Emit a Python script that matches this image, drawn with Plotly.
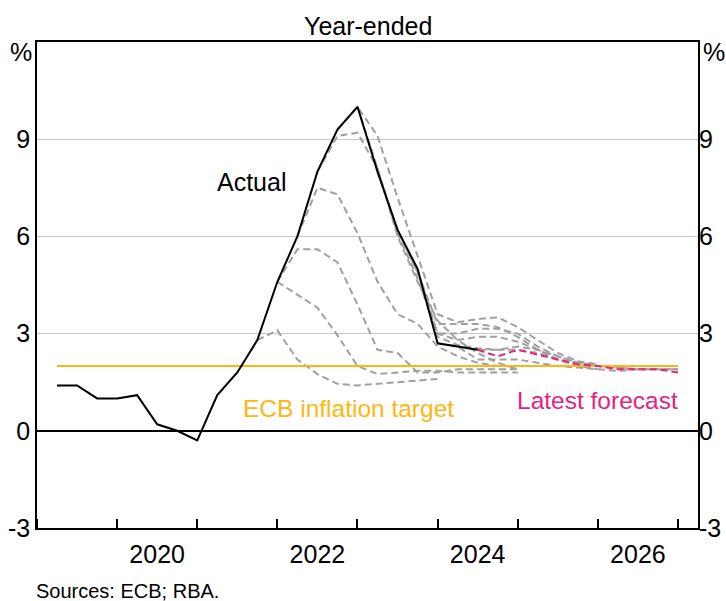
import plotly.graph_objects as go

# ---------------- data ----------------
actual_start = "2019Q1"
actual_values = [1.4, 1.4, 1.0, 1.0, 1.1, 0.2, 0.0, -0.3, 1.1, 1.8, 2.8, 4.6,
                 6.0, 8.0, 9.3, 10.0, 8.0, 6.2, 5.0, 2.7, 2.6, 2.5]

# earlier ECB projections (start quarter, values)
f_sep21_start = "2021Q3"
f_sep21 = [2.8, 3.1, 2.2, 1.75, 1.45, 1.4, 1.45, 1.5, 1.55, 1.6]
f_dec21_start = "2021Q4"
f_dec21 = [4.6, 4.2, 3.8, 2.95, 2.0, 1.75, 1.8, 1.85, 1.85, 1.8, 1.8, 1.8, 1.8]
f_mar22_start = "2021Q4"
f_mar22 = [4.6, 5.6, 5.6, 5.2, 3.9, 2.5, 2.4, 1.8, 1.8, 1.9, 1.9, 1.9, 1.9]
f_jun22_start = "2022Q1"
f_jun22 = [6.0, 7.5, 7.3, 6.1, 4.6, 3.6, 3.3, 2.6, 2.3, 2.1, 2.0, 2.0]
f_sep22_start = "2022Q2"
f_sep22 = [8.0, 9.1, 9.2, 8.1, 6.0, 4.6, 3.4, 2.8, 2.4, 2.1, 1.9]
f_dec22_start = "2022Q3"
f_dec22 = [9.3, 10.0, 9.1, 7.2, 5.4, 3.6, 3.35, 3.45, 3.5, 3.2, 2.8, 2.4, 2.15, 2.05]
f_mar23_start = "2022Q4"
f_mar23 = [10.0, 8.1, 6.1, 4.7, 3.0, 3.0, 3.15, 3.15, 3.0, 2.6, 2.3, 2.1, 2.0]
f_jun23_start = "2023Q1"
f_jun23 = [8.0, 6.2, 4.9, 3.3, 3.3, 3.3, 3.2, 2.9, 2.5, 2.2, 2.1, 2.0]
f_sep23_start = "2023Q2"
f_sep23 = [6.2, 4.9, 3.0, 2.8, 2.9, 2.9, 2.75, 2.5, 2.2, 2.0, 1.9]
f_dec23_start = "2023Q3"
f_dec23 = [5.0, 2.9, 2.65, 2.55, 2.5, 2.5, 2.4, 2.2, 2.05, 2.0, 1.95, 1.9, 1.9, 1.9]
f_mar24_start = "2023Q4"
f_mar24 = [2.7, 2.6, 2.2, 2.2, 2.2, 2.1, 2.0, 1.95, 1.9, 1.85, 1.9, 1.9, 1.9]
f_jun24_start = "2024Q1"
f_jun24 = [2.6, 2.5, 2.5, 2.6, 2.5, 2.3, 2.1, 2.0, 1.95, 1.9, 1.9, 1.9]

latest_start = "2024Q2"
latest_values = [2.5, 2.3, 2.5, 2.35, 2.2, 2.05, 2.0, 1.9, 1.9, 1.9, 1.8]

target_value = 2.0
target_span = ["2019Q1", "2026Q4"]

y_ticks = [-3, 0, 3, 6, 9]
x_label_years = [2020, 2022, 2024, 2026]

GRAY = "#a0a0a0"
PINK = "#E5247E"
ORANGE = "#FFB612"
FONT = "Liberation Sans, Arial, sans-serif"
FS = 25


def qpos(label):
    y, q = label.split("Q")
    return int(y) + int(q) / 4


def qseries(start, n):
    y, q = map(int, start.split("Q"))
    out = []
    for _ in range(n):
        out.append(f"{y}Q{q}")
        q += 1
        if q > 4:
            q = 1
            y += 1
    return out


def xs(start, vals):
    return [qpos(l) for l in qseries(start, len(vals))]


fig = go.Figure()

forecasts = [
    (f_sep21_start, f_sep21), (f_dec21_start, f_dec21), (f_mar22_start, f_mar22),
    (f_jun22_start, f_jun22), (f_sep22_start, f_sep22), (f_dec22_start, f_dec22),
    (f_mar23_start, f_mar23), (f_jun23_start, f_jun23), (f_sep23_start, f_sep23),
    (f_dec23_start, f_dec23), (f_mar24_start, f_mar24), (f_jun24_start, f_jun24),
]
for s, v in forecasts:
    fig.add_trace(go.Scatter(x=xs(s, v), y=v, mode="lines",
                             line=dict(color=GRAY, width=2, dash="7px,4px"),
                             hoverinfo="skip"))

fig.add_trace(go.Scatter(x=[qpos(t) for t in target_span],
                         y=[target_value] * len(target_span), mode="lines",
                         line=dict(color=ORANGE, width=2), hoverinfo="skip"))

fig.add_trace(go.Scatter(x=xs(latest_start, latest_values), y=latest_values,
                         mode="lines",
                         line=dict(color=PINK, width=2, dash="7px,4px")))

fig.add_trace(go.Scatter(x=xs(actual_start, actual_values), y=actual_values,
                         mode="lines", line=dict(color="black", width=2)))

# helper so the right-hand axis is drawn
fig.add_trace(go.Scatter(x=[2020], y=[0], yaxis="y2", mode="markers",
                         marker=dict(opacity=0), hoverinfo="skip"))

fig.update_layout(
    width=726, height=601,
    margin=dict(l=37, r=28, t=42, b=73),
    plot_bgcolor="white", paper_bgcolor="white",
    showlegend=False,
    font=dict(family=FONT, size=FS, color="black"),
    xaxis=dict(
        range=[2019, 2027.25], automargin=False,
        tickvals=[y + 0.5 for y in x_label_years],
        ticktext=[str(y) for y in x_label_years],
        ticks="", showgrid=False, zeroline=False,
        showline=True, linecolor="black", linewidth=1.5, mirror=True,
        ticklabelstandoff=3,
        minor=dict(ticks="inside", tick0=2019, dtick=1, ticklen=9,
                   tickcolor="black", tickwidth=1.5, showgrid=False),
    ),
    yaxis=dict(
        range=[-3, 12], automargin=False,
        tickvals=y_ticks, ticktext=[str(v) for v in y_ticks],
        showgrid=True, gridcolor="#c8c8c8", gridwidth=1,
        zeroline=True, zerolinecolor="black", zerolinewidth=1.5,
        showline=True, linecolor="black", linewidth=1.5, mirror=True,
        ticks="",
    ),
    yaxis2=dict(
        range=[-3, 12], automargin=False,
        tickvals=y_ticks, ticktext=[str(v) for v in y_ticks],
        overlaying="y", side="right", showgrid=False, zeroline=False,
        showline=False, ticks="",
    ),
)

ann = [
    dict(text="Year-ended", xref="paper", yref="paper", x=0.5, y=1,
         yanchor="bottom", yshift=0, showarrow=False),
    dict(text="%", xref="paper", yref="y", x=0, y=11.7, xanchor="right",
         xshift=-3, yanchor="middle", showarrow=False),
    dict(text="%", xref="paper", yref="y", x=1, y=11.7, xanchor="left",
         xshift=3, yanchor="middle", showarrow=False),
    dict(text="Actual", x=2021.675, y=7.67, xref="x", yref="y",
         showarrow=False),
    dict(text="ECB inflation target", x=2021.55, y=0.68, xref="x", yref="y",
         xanchor="left", showarrow=False, font=dict(color=ORANGE, size=24.5)),
    dict(text="Latest forecast", x=2027.02, y=0.92, xref="x", yref="y",
         xanchor="right", showarrow=False, font=dict(color=PINK, size=24.5)),
    dict(text="Sources: ECB; RBA.", xref="paper", yref="paper", x=0, y=0,
         xanchor="left", xshift=-3, yanchor="middle", yshift=-63,
         showarrow=False, font=dict(size=20)),
]
fig.update_layout(annotations=ann)

fig.write_html("out.html",
               config={"displayModeBar": False},
               post_script="document.body.style.margin='0';"
                           "document.body.style.overflow='hidden';")
